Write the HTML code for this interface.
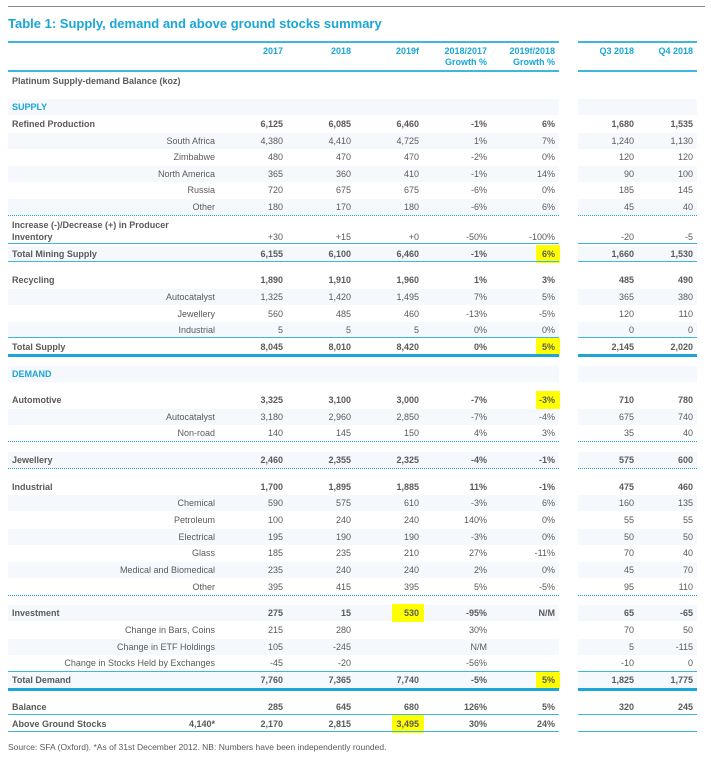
<!DOCTYPE html>
<html><head><meta charset="utf-8">
<style>
body{margin:0;background:#fff;width:711px;height:762px;overflow:hidden;position:relative;font-family:"Liberation Sans",Arial,sans-serif;color:#5a5a5a}
.a{position:absolute;white-space:nowrap;font-size:9px;line-height:12px}
.b{font-weight:bold}
.r{text-align:right}
.blue{color:#1aa6d6;font-weight:bold}
.bg{position:absolute;background:#f5f8fd}
.ln{position:absolute}
.hl{position:absolute;background:#ffff00}
</style></head>
<body>
<div class="ln" style="left:8px;top:6px;width:697px;height:1px;background:#888"></div>
<div class="a blue" style="left:8px;top:16px;font-size:13px;line-height:16px">Table 1: Supply, demand and above ground stocks summary</div>
<div id="t"></div>
<div class="a" style="left:8px;top:741px;font-size:8.5px">Source: SFA (Oxford). *As of 31st December 2012. NB: Numbers have been independently rounded.</div>
<script>
const colRight=[283,351,419,487,555,634,693];
const headers=[["2017"],["2018"],["2019f"],["2018/2017","Growth %"],["2019f/2018","Growth %"],["Q3 2018"],["Q4 2018"]];
// [label, kind, y-center, values...]
const rows=[
["Platinum Supply-demand Balance (koz)","b",81,[]],
["SUPPLY","h",107,[]],
["Refined Production","b",124,["6,125","6,085","6,460","-1%","6%","1,680","1,535"]],
["South Africa","s",141,["4,380","4,410","4,725","1%","7%","1,240","1,130"]],
["Zimbabwe","s",157,["480","470","470","-2%","0%","120","120"]],
["North America","s",174,["365","360","410","-1%","14%","90","100"]],
["Russia","s",190,["720","675","675","-6%","0%","185","145"]],
["Other","s",207,["180","170","180","-6%","6%","45","40"]],
["Inventory","b2",237,["+30","+15","+0","-50%","-100%","-20","-5"]],
["Total Mining Supply","b",254,["6,155","6,100","6,460","-1%","6%","1,660","1,530"]],
["Recycling","b",280,["1,890","1,910","1,960","1%","3%","485","490"]],
["Autocatalyst","s",297,["1,325","1,420","1,495","7%","5%","365","380"]],
["Jewellery","s",314,["560","485","460","-13%","-5%","120","110"]],
["Industrial","s",330,["5","5","5","0%","0%","0","0"]],
["Total Supply","b",347,["8,045","8,010","8,420","0%","5%","2,145","2,020"]],
["DEMAND","h",374,[]],
["Automotive","b",400,["3,325","3,100","3,000","-7%","-3%","710","780"]],
["Autocatalyst","s",417,["3,180","2,960","2,850","-7%","-4%","675","740"]],
["Non-road","s",433,["140","145","150","4%","3%","35","40"]],
["Jewellery","b",460,["2,460","2,355","2,325","-4%","-1%","575","600"]],
["Industrial","b",487,["1,700","1,895","1,885","11%","-1%","475","460"]],
["Chemical","s",503,["590","575","610","-3%","6%","160","135"]],
["Petroleum","s",520,["100","240","240","140%","0%","55","55"]],
["Electrical","s",537,["195","190","190","-3%","0%","50","50"]],
["Glass","s",553,["185","235","210","27%","-11%","70","40"]],
["Medical and Biomedical","s",570,["235","240","240","2%","0%","45","70"]],
["Other","s",587,["395","415","395","5%","-5%","95","110"]],
["Investment","b",613,["275","15","530","-95%","N/M","65","-65"]],
["Change in Bars, Coins","s",630,["215","280","","30%","","70","50"]],
["Change in ETF Holdings","s",647,["105","-245","","N/M","","5","-115"]],
["Change in Stocks Held by Exchanges","s",663,["-45","-20","","-56%","","-10","0"]],
["Total Demand","b",680,["7,760","7,365","7,740","-5%","5%","1,825","1,775"]],
["Balance","b",707,["285","645","680","126%","5%","320","245"]],
["Above Ground Stocks","b",724,["2,170","2,815","3,495","30%","24%","",""]]
];
// [y, style]
const lines=[[41,"solid2"],[70,"solid2"],[215,"dot"],[243,"solid1"],[261,"solid1"],[337,"solid1"],[354,"thick"],[441,"dot"],[468,"dot"],[595,"dot"],[671,"solid1"],[688,"thick"],[714,"solid1"],[731,"solid1"]];
// [row index, column index]
const highlights=[[9,4],[14,4],[16,4],[27,2],[31,4],[33,2]];
const shaded=[1,3,5,7,9,11,13,15,17,19,21,23,25,27,29,31];

const T=document.getElementById('t');
function add(cls,css,txt){const d=document.createElement('div');d.className=cls;d.style.cssText=css;if(txt!==undefined)d.textContent=txt;T.appendChild(d);return d;}
shaded.forEach(i=>{const y=rows[i][2];
 const b1=add('bg',`left:8px;top:${y-8}px;width:551px;height:16px`);
 
 
 const b2=add('bg',`left:578px;top:${y-8}px;width:119px;height:16px`);
 
 });
highlights.forEach(h=>{const y=rows[h[0]][2];const x=colRight[h[1]];const w=h[1]==2?30:22;
 const d=add('hl',`left:${x-w+3}px;top:${y-9}px;width:${w+2}px;height:18px`);
 
 });
lines.forEach(l=>{[[8,551],[578,119]].forEach(s=>{let css=`left:${s[0]}px;top:${l[0]}px;width:${s[1]}px;`;
 if(l[1]=="dot")css+="height:0;border-top:1px dotted #1aa6d6";
 else if(l[1]=="thick")css+="height:3px;background:#1aa6d6";
 else if(l[1]=="solid2")css+="height:2px;background:#3fb6df";
 else css+="height:1px;background:#3fb6df";
 const d=add('ln',css);
 
 });});
headers.forEach((h,i)=>{h.forEach((t,j)=>{const d=add('a blue r',`left:${colRight[i]-80}px;width:80px;top:${45+j*11}px`,t);
 
 });});
rows.forEach(r=>{const[lab,k,y,vals]=r;let d;
 if(k=="h"){d=add('a blue',`left:12px;top:${y-6}px`,lab);}
 else if(k=="s"){d=add('a r',`left:15px;width:200px;top:${y-6}px`,lab);}
 else if(k=="b2"){d=add('a b',`left:12px;top:${y-18}px`,'Increase (-)/Decrease (+) in Producer');
  
  
  d=add('a b',`left:12px;top:${y-6}px`,lab);}
 else d=add('a b',`left:12px;top:${y-6}px`,lab);
 
 
 vals.forEach((v,i)=>{if(!v)return;const c=add('a r'+(k=="b"?' b':''),`left:${colRight[i]-70}px;width:70px;top:${y-6}px`,v);
  
  });
});
const ag=add('a r b','left:135px;width:80px;top:718px','4,140*');


</script>
</body></html>
